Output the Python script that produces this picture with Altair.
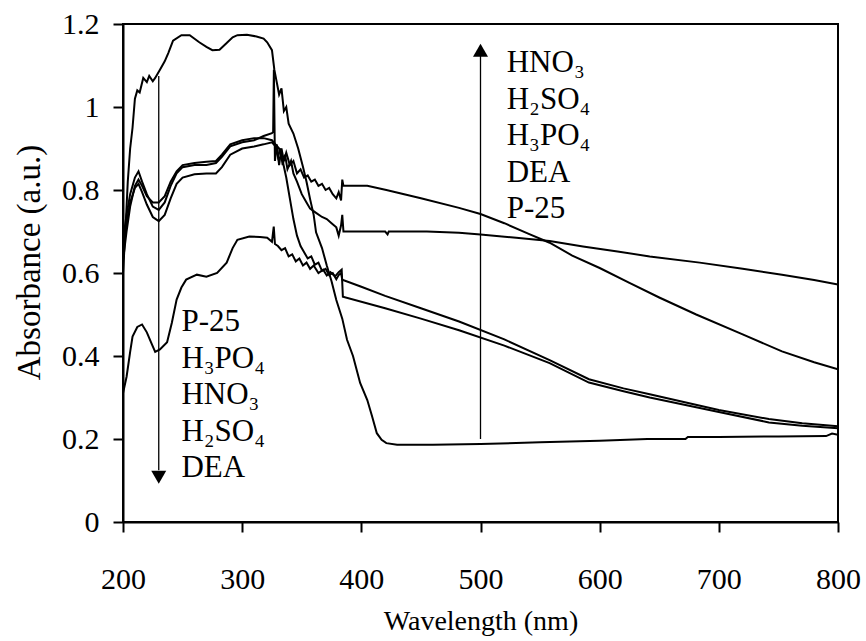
import altair as alt
import pandas as pd

# ---------------- data ----------------
p25_wl = [200, 202, 204, 206, 208, 210, 212, 214, 217, 220, 222, 225, 227, 231, 235, 238,
          242, 249, 256, 264, 270, 275, 281, 287, 292, 296, 304, 312, 318, 321, 325, 327,
          329, 331, 333, 335, 337, 339, 343, 347, 351, 354, 357, 360, 362, 367, 371, 375,
          379, 384, 388, 393, 399, 405, 409, 413, 417, 421, 430, 460, 500, 550, 600, 640,
          672, 674, 700, 750, 790, 795, 800]
p25_ab = [0.60, 0.70, 0.82, 0.90, 0.95, 1.02, 1.04, 1.035, 1.07, 1.06, 1.075, 1.062, 1.07,
          1.09, 1.11, 1.13, 1.16, 1.173, 1.173, 1.156, 1.145, 1.137, 1.138, 1.154, 1.168,
          1.173, 1.174, 1.17, 1.165, 1.156, 1.137, 1.09, 1.06, 1.03, 1.045, 0.99, 1.0, 0.96,
          0.936, 0.90, 0.856, 0.82, 0.778, 0.74, 0.698, 0.66, 0.618, 0.58, 0.535, 0.49,
          0.439, 0.40, 0.335, 0.294, 0.255, 0.214, 0.198, 0.19, 0.186, 0.186, 0.188, 0.192,
          0.196, 0.2, 0.2, 0.205, 0.205, 0.206, 0.207, 0.213, 0.21]

hno3_wl = [200, 203, 206, 210, 213, 216, 220, 225, 230, 235, 240, 245, 250, 260, 270, 278,
           283, 290, 300, 310, 318, 325, 326, 326.6, 327.5, 329, 331, 333, 335, 337, 340,
           343, 346, 349, 352, 355, 358, 361, 364, 367, 370, 373, 376, 379, 381, 383, 384,
           385, 405, 421, 450, 482, 500, 520, 540, 558, 577, 600, 625, 650, 681, 720, 753,
           780, 800]
hno3_ab = [0.68, 0.74, 0.79, 0.83, 0.845, 0.82, 0.79, 0.76, 0.752, 0.77, 0.81, 0.84, 0.855,
           0.86, 0.86, 0.865, 0.88, 0.905, 0.915, 0.92, 0.93, 0.937, 0.94, 1.09, 0.87, 0.91,
           0.86, 0.90, 0.87, 0.89, 0.86, 0.87, 0.84, 0.85, 0.83, 0.835, 0.82, 0.825, 0.81,
           0.815, 0.80, 0.805, 0.79, 0.78, 0.795, 0.775, 0.825, 0.81, 0.81, 0.80, 0.78,
           0.757, 0.742, 0.72, 0.695, 0.673, 0.642, 0.612, 0.576, 0.541, 0.50, 0.452, 0.411,
           0.385, 0.368]

h2so4_wl = [200, 203, 206, 210, 213, 216, 220, 225, 230, 235, 240, 245, 250, 260, 270, 278,
            283, 290, 300, 310, 318, 325, 328, 330, 332, 334, 336, 338, 341, 343, 346, 350,
            354, 357, 362, 367, 371, 375, 379, 381, 383, 384, 385, 420, 422, 423, 455, 482,
            500, 530, 558, 586, 615, 642, 684, 720, 753, 780, 800]
h2so4_ab = [0.66, 0.72, 0.77, 0.805, 0.815, 0.795, 0.765, 0.735, 0.725, 0.74, 0.78, 0.815,
            0.83, 0.838, 0.84, 0.84, 0.855, 0.885, 0.90, 0.905, 0.91, 0.915, 0.905, 0.88,
            0.90, 0.86, 0.885, 0.85, 0.87, 0.84, 0.82, 0.79, 0.77, 0.755, 0.745, 0.735,
            0.73, 0.72, 0.71, 0.69, 0.715, 0.74, 0.70, 0.70, 0.693, 0.70, 0.70, 0.697,
            0.693, 0.685, 0.677, 0.664, 0.652, 0.64, 0.625, 0.61, 0.596, 0.583, 0.572]

h3po4_wl = [200, 203, 206, 210, 213, 216, 220, 225, 230, 235, 240, 245, 250, 260, 270, 278,
            283, 290, 300, 310, 318, 325, 328, 331, 334, 337, 340, 343, 346, 349, 352, 355,
            358, 361, 364, 367, 370, 373, 376, 379, 381, 383, 384, 400, 420, 450, 482, 520,
            558, 591, 620, 642, 700, 742, 770, 800]
h3po4_ab = [0.63, 0.70, 0.76, 0.81, 0.825, 0.81, 0.785, 0.77, 0.77, 0.785, 0.82, 0.845,
            0.86, 0.865, 0.868, 0.87, 0.885, 0.91, 0.92, 0.925, 0.925, 0.92, 0.91, 0.90,
            0.87, 0.83, 0.78, 0.73, 0.69, 0.665, 0.65, 0.635, 0.64, 0.62, 0.625, 0.605,
            0.61, 0.595, 0.60, 0.585, 0.595, 0.60, 0.584, 0.567, 0.545, 0.515, 0.483, 0.44,
            0.39, 0.344, 0.322, 0.308, 0.27, 0.248, 0.238, 0.231]

dea_wl = [200, 203, 206, 208, 212, 216, 220, 224, 227, 231, 237, 241, 245, 249, 253, 262,
          270, 279, 287, 292, 296, 306, 315, 321, 325, 326.5, 327.5, 330, 333, 336, 339, 342,
          345, 348, 351, 354, 357, 360, 364, 368, 371, 374, 378, 381, 383.5, 384.5, 420, 450,
          482, 520, 558, 591, 620, 642, 700, 742, 770, 800]
dea_ab = [0.31, 0.35, 0.41, 0.447, 0.47, 0.476, 0.457, 0.43, 0.41, 0.416, 0.433, 0.48, 0.536,
          0.565, 0.584, 0.596, 0.591, 0.60, 0.625, 0.66, 0.68, 0.688, 0.687, 0.685, 0.675,
          0.712, 0.67, 0.665, 0.655, 0.66, 0.64, 0.645, 0.628, 0.635, 0.618, 0.625, 0.61,
          0.618, 0.6, 0.608, 0.594, 0.602, 0.592, 0.602, 0.608, 0.543, 0.515, 0.49, 0.462,
          0.425, 0.383, 0.336, 0.315, 0.30, 0.265, 0.24, 0.232, 0.226]

series_names = ["P-25", "HNO3", "H2SO4", "H3PO4", "DEA"]
series_wl = [p25_wl, hno3_wl, h2so4_wl, h3po4_wl, dea_wl]
series_ab = [p25_ab, hno3_ab, h2so4_ab, h3po4_ab, dea_ab]

x_ticks = [200, 300, 400, 500, 600, 700, 800]
y_ticks = [0, 0.2, 0.4, 0.6, 0.8, 1, 1.2]

up_labels = ["HNO\u2083", "H\u2082SO\u2084", "H\u2083PO\u2084", "DEA", "P-25"]
down_labels = ["P-25", "H\u2083PO\u2084", "HNO\u2083", "H\u2082SO\u2084", "DEA"]

# ---------------- build tables ----------------
rows = []
for name, wl, ab in zip(series_names, series_wl, series_ab):
    for i, (w, a) in enumerate(zip(wl, ab)):
        rows.append({"series": name, "wl": w, "ab": a, "i": i})
curves = pd.DataFrame(rows)

FONT = "Liberation Serif"
LSTEP = 0.088
up_df = pd.DataFrame({"t": up_labels, "wl": 522,
                      "ab": [1.084 - k * LSTEP for k in range(len(up_labels))]})
down_df = pd.DataFrame({"t": down_labels, "wl": 249,
                        "ab": [0.46 - k * LSTEP for k in range(len(down_labels))]})

arrows = pd.DataFrame({"wl": [500, 230], "y1": [0.2, 1.075], "y2": [1.13, 0.125]})
heads = pd.DataFrame({"wl": [500, 230], "ab": [1.137, 0.108],
                      "shape": ["triangle-up", "triangle-down"]})

xs = alt.Scale(domain=[200, 800], nice=False, zero=False)
ys = alt.Scale(domain=[0, 1.2], nice=False, zero=True)

xaxis = alt.Axis(values=x_ticks, title="Wavelength (nm)", grid=False, tickSize=10,
                 tickWidth=2, domainWidth=2, domainColor="black", tickColor="black",
                 labelFont=FONT, labelFontSize=30, labelColor="black", labelPadding=32,
                 titleFont=FONT, titleFontSize=28, titleFontWeight="normal",
                 titleColor="black", titlePadding=13, labelFlush=False)
yaxis = alt.Axis(values=y_ticks, title="Absorbance (a.u.)", grid=False, tickSize=10,
                 tickWidth=2, domainWidth=2, domainColor="black", tickColor="black",
                 labelFont=FONT, labelFontSize=30, labelColor="black", labelPadding=14,
                 format="~g", titleFont=FONT, titleFontSize=33, titleFontWeight="normal",
                 titleColor="black", titlePadding=15, labelFlush=False, titleY=238)

lines = alt.Chart(curves).mark_line(color="black", strokeWidth=2, clip=True).encode(
    x=alt.X("wl:Q", scale=xs, axis=xaxis),
    y=alt.Y("ab:Q", scale=ys, axis=yaxis),
    detail="series:N",
    order="i:Q",
)

rules = alt.Chart(arrows).mark_rule(color="black", strokeWidth=1.3).encode(
    x=alt.X("wl:Q", scale=xs), y=alt.Y("y1:Q", scale=ys), y2="y2:Q")

heads_m = alt.Chart(heads).mark_point(filled=True, color="black", size=225, opacity=1).encode(
    x=alt.X("wl:Q", scale=xs), y=alt.Y("ab:Q", scale=ys),
    shape=alt.Shape("shape:N", scale=None))

up_text = alt.Chart(up_df).mark_text(font=FONT, fontSize=31, align="left",
                                     baseline="alphabetic", color="black").encode(
    x=alt.X("wl:Q", scale=xs), y=alt.Y("ab:Q", scale=ys), text="t:N")
down_text = alt.Chart(down_df).mark_text(font=FONT, fontSize=31, align="left",
                                         baseline="alphabetic", color="black").encode(
    x=alt.X("wl:Q", scale=xs), y=alt.Y("ab:Q", scale=ys), text="t:N")

chart = alt.layer(lines, rules, heads_m, up_text, down_text).properties(
    width=715, height=498,
    autosize=alt.AutoSizeParams(type="none"),
    padding={"left": 123, "top": 24, "right": 28, "bottom": 119},
    background="white",
).configure_view(stroke="black", strokeWidth=2)

chart.save("out.html", embed_options={"renderer": "svg", "actions": False})
